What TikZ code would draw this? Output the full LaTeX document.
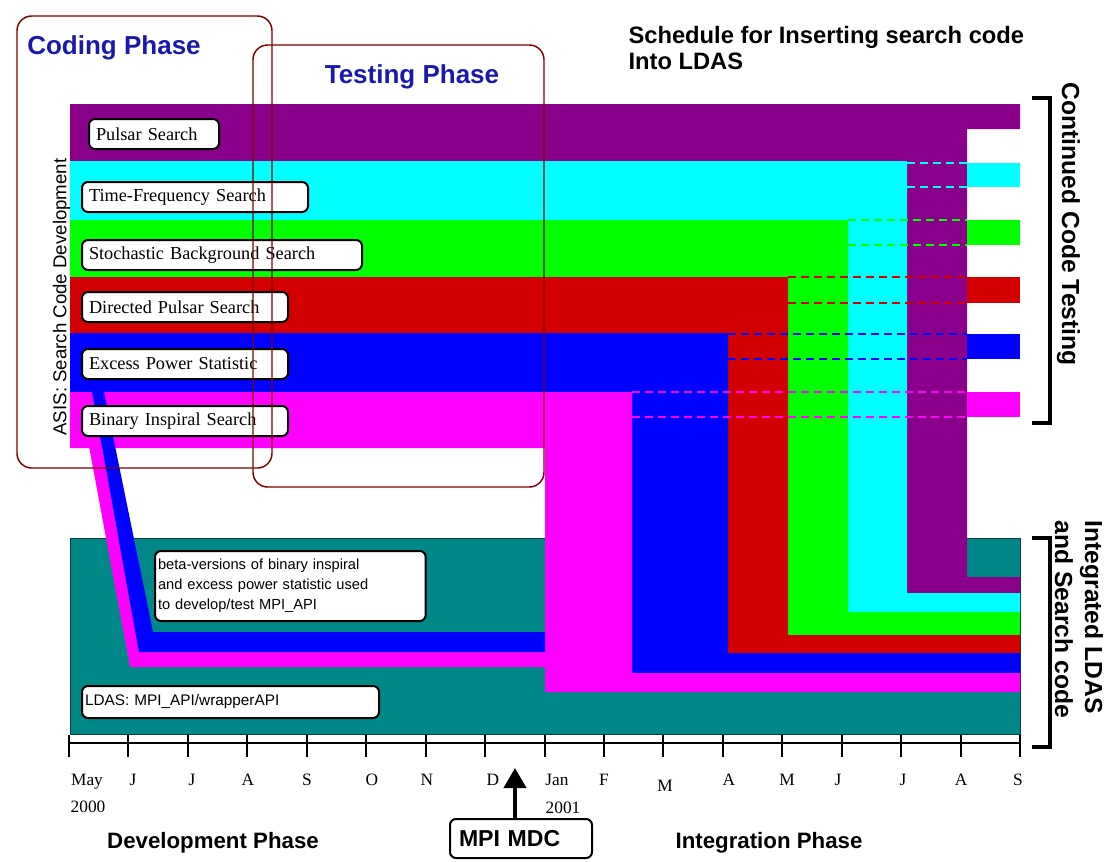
\documentclass[tikz,border=0pt]{standalone}
\usepackage{fontspec}
\setmainfont{Liberation Serif}
\setsansfont{Liberation Sans}
\usetikzlibrary{arrows.meta}

\tikzset{every picture/.style={line width=0.75pt}}
\tikzset{
  purpleband/.style={color={rgb, 255:red, 139; green, 0; blue, 139 }},
  cyanband/.style={color={rgb, 255:red, 0; green, 255; blue, 255 }},
  greenband/.style={color={rgb, 255:red, 0; green, 255; blue, 0 }},
  redband/.style={color={rgb, 255:red, 210; green, 0; blue, 0 }},
  blueband/.style={color={rgb, 255:red, 0; green, 0; blue, 255 }},
  magentaband/.style={color={rgb, 255:red, 255; green, 0; blue, 255 }},
  tealband/.style={fill={rgb, 255:red, 0; green, 136; blue, 136 }, draw={rgb, 255:red, 20; green, 60; blue, 60 }},
  blockdash/.style={line width=1.1pt, dash pattern={on 6pt off 3.75pt}},
  phasebox/.style={draw={rgb, 255:red, 128; green, 0; blue, 0 }, line width=1.1pt, rounded corners=11pt},
  searchbox/.style={draw, fill=white, line width=1.5pt, rounded corners=4.5pt, anchor=north west, inner xsep=5.25pt, inner ysep=0pt, minimum height=22.5pt, align=left, font=\fontsize{13.7}{16}\selectfont},
  notebox/.style={draw, fill=white, line width=1.5pt, rounded corners=4.5pt, anchor=north west, inner xsep=2.25pt, inner ysep=0pt, align=left, font=\sffamily\fontsize{11}{15}\selectfont},
  monthtext/.style={anchor=base, inner sep=0.75pt, font=\fontsize{13}{15}\selectfont},
  phasetext/.style={inner sep=0.75pt, color={rgb, 255:red, 25; green, 25; blue, 175 }, font=\sffamily\bfseries\fontsize{19.5}{22}\selectfont},
  bottomtext/.style={inner sep=0.75pt, font=\sffamily\bfseries\fontsize{16.7}{19}\selectfont},
  sidetext/.style={inner sep=0pt, rotate=-90, anchor=base west, font=\sffamily\bfseries\fontsize{18.5}{22.5}\selectfont},
  bracket/.style={line width=3pt},
}

\begin{document}
\begin{tikzpicture}[x=0.75pt,y=0.75pt,yscale=-1,xscale=1]
\useasboundingbox (0,0) rectangle (1107,861); %set diagram to the size of the page

%Shape: Rectangle [LDAS]
\draw [tealband] (70,538) rectangle (1020,734) ;
%Shape: Polygon [pulsar]
\fill [purpleband] (70,104) -- (1020,104) -- (1020,129) -- (967,129) -- (967,577) -- (1020,577) -- (1020,593) -- (907,593) -- (907,161) -- (70,161) -- cycle ;
%Shape: Polygon [time-frequency]
\fill [cyanband] (70,161) -- (907,161) -- (907,593) -- (1020,593) -- (1020,612) -- (848,612) -- (848,220) -- (70,220) -- cycle ;
%Shape: Polygon [stochastic]
\fill [greenband] (70,220) -- (848,220) -- (848,612) -- (1020,612) -- (1020,635) -- (788,635) -- (788,277) -- (70,277) -- cycle ;
%Shape: Polygon [directed pulsar]
\fill [redband] (70,277) -- (788,277) -- (788,635) -- (1020,635) -- (1020,653) -- (728,653) -- (728,333) -- (70,333) -- cycle ;
%Shape: Polygon [excess power]
\fill [blueband] (70,333) -- (728,333) -- (728,653) -- (1020,653) -- (1020,673) -- (632,673) -- (632,392) -- (70,392) -- cycle ;
%Shape: Polygon [binary inspiral]
\fill [magentaband] (70,392) -- (632,392) -- (632,673) -- (1020,673) -- (1020,692) -- (545,692) -- (545,448) -- (70,448) -- cycle ;

%Shape: Rectangle [testing blocks]
\fill [cyanband] (967,163) rectangle (1020,187) ;
\fill [greenband] (967,220) rectangle (1020,245) ;
\fill [redband] (967,277) rectangle (1020,303) ;
\fill [blueband] (967,334) rectangle (1020,359) ;
\fill [magentaband] (967,392) rectangle (1020,417) ;

%Straight Lines [testing dashes]
\draw [cyanband, blockdash] (907,163) -- (967,163) (907,187) -- (967,187) ;
\draw [greenband, blockdash] (848,220) -- (967,220) (848,245) -- (967,245) ;
\draw [redband, blockdash] (788,277) -- (967,277) (788,303) -- (967,303) ;
\draw [blueband, blockdash] (728,334) -- (967,334) (728,359) -- (967,359) ;
\draw [magentaband, blockdash] (632,392) -- (967,392) (632,417) -- (967,417) ;

%Shape: Polygon [beta versions]
\fill [magentaband] (86,430) -- (99,430) -- (139,652) -- (545,652) -- (545,667) -- (130,667) -- cycle ;
\fill [blueband] (92,392) -- (104,392) -- (153,632) -- (545,632) -- (545,652) -- (139,652) -- cycle ;

% Text Node
\node [searchbox, text width=87pt] (pulsar) at (88,118) {Pulsar Search};
% Text Node
\node [searchbox, text width=159pt] (tfreq) at (81,181) {Time-Frequency Search};
% Text Node
\node [searchbox, text width=199.5pt] (stoch) at (81,239) {Stochastic Background Search};
% Text Node
\node [searchbox, text width=144pt] (dirpulsar) at (81,291) {Directed Pulsar Search};
% Text Node
\node [searchbox, text width=144pt] (excess) at (81,348) {Excess Power Statistic};
% Text Node
\node [searchbox, text width=144pt] (binary) at (81,405) {Binary Inspiral Search};
% Text Node
\node [notebox, text width=198.5pt, minimum height=52.5pt] (betanote) at (154,550) {beta-versions of binary inspiral\\and excess power statistic used\\to develop/test MPI\_API};
% Text Node
\node [notebox, text width=218.25pt, minimum height=24pt, font=\sffamily\fontsize{11.5}{14}\selectfont] (ldasnote) at (81,685) {LDAS: MPI\_API/wrapperAPI};

%Shape: Rounded Rect [phases]
\draw [phasebox] (17,16) rectangle (272,468) ;
\draw [phasebox] (253,45) rectangle (544,487) ;

% Text Node
\draw (114,47.5) node [phasetext] (codingph) {Coding Phase};
% Text Node
\draw (412,77) node [phasetext] (testingph) {Testing Phase};
% Text Node
\draw (628,26) node [anchor=north west][inner sep=0pt, align=left, font=\sffamily\bfseries\fontsize{17.8}{19.5}\selectfont] (title) {Schedule for Inserting search code\\Into LDAS};
% Text Node
\draw (61.5,297) node [rotate=90][inner sep=0.75pt, font=\sffamily\fontsize{14}{16}\selectfont] (asis) {ASIS: Search Code Development};

%Shape: Axis 2D [months]
\draw [line width=1.5pt] (69,743) -- (1020,743) (69,735) -- (69,757) (128.4,735) -- (128.4,757) (187.9,735) -- (187.9,757) (247.3,735) -- (247.3,757) (306.8,735) -- (306.8,757) (366.2,735) -- (366.2,757) (425.6,735) -- (425.6,757) (485.1,735) -- (485.1,757) (544.5,735) -- (544.5,757) (604,735) -- (604,757) (663.4,735) -- (663.4,757) (722.8,735) -- (722.8,757) (782.3,735) -- (782.3,757) (841.7,735) -- (841.7,757) (901.2,735) -- (901.2,757) (960.6,735) -- (960.6,757) (1020,735) -- (1020,757) ;

% Text Node
\draw (87,785) node [monthtext] (mmay) {May};
\draw (133,785) node [monthtext] (mjun) {J};
\draw (192,785) node [monthtext] (mjul) {J};
\draw (248,785) node [monthtext] (maug) {A};
\draw (307,785) node [monthtext] (msep) {S};
\draw (372,785) node [monthtext] (moct) {O};
\draw (427,785) node [monthtext] (mnov) {N};
\draw (493,785) node [monthtext] (mdec) {D};
\draw (557,785) node [monthtext] (mjan) {Jan};
\draw (604,785) node [monthtext] (mfeb) {F};
\draw (665,791) node [monthtext] (mmar) {M};
\draw (729,785) node [monthtext] (mapr) {A};
\draw (787,785) node [monthtext] (mmayb) {M};
\draw (838,785) node [monthtext] (mjunb) {J};
\draw (903,785) node [monthtext] (mjulb) {J};
\draw (961,785) node [monthtext] (maugb) {A};
\draw (1018,785) node [monthtext] (msepb) {S};
% Text Node
\draw (88,812) node [monthtext] (yfirst) {2000};
\draw (563,813) node [monthtext] (ysecond) {2001};

% Text Node
\node [draw, line width=1.5pt, rounded corners=4.5pt, anchor=north west, minimum height=29.25pt, inner xsep=6.75pt, inner ysep=0pt, text width=93pt, align=left, font=\sffamily\bfseries\fontsize{17.3}{20}\selectfont] (mdc) at (449,818) {MPI MDC};
\coordinate (mdctip) at (515,768) ;
%Straight Lines [MDC arrow]
\draw [line width=3pt, -{Triangle[width=16.5pt,length=15pt]}] (mdc.north -| mdctip) -- (mdctip) ;

% Text Node
\draw (213,843) node [bottomtext] (develph) {Development Phase};
% Text Node
\draw (769,843) node [bottomtext] (integph) {Integration Phase};

%Straight Lines [brackets]
\draw [bracket] (1032,98) -- (1050,98) -- (1050,423) -- (1032,423) ;
\draw [bracket] (1032,538) -- (1050,538) -- (1050,747) -- (1032,747) ;

% Text Node
\draw (1062,82) node [sidetext] (contest) {Continued Code Testing};
% Text Node
\draw (1085,520) node [sidetext] (integldas) {Integrated LDAS};
% Text Node
\draw (1055,520) node [sidetext] (searchcode) {and Search code};

\end{tikzpicture}
\end{document}
